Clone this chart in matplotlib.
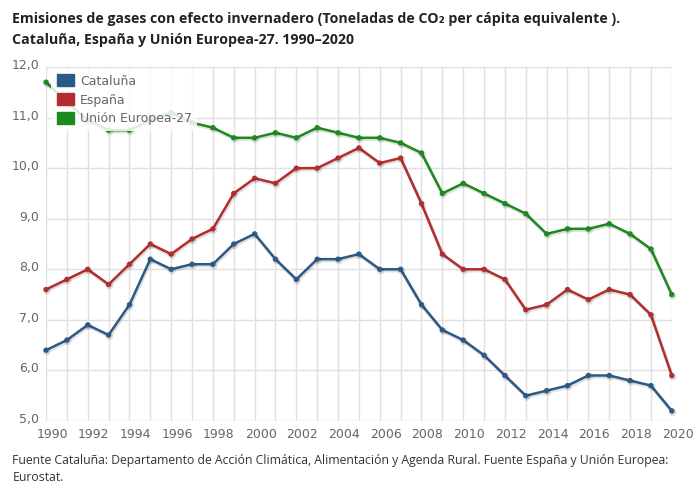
import matplotlib
matplotlib.use("Agg")
import matplotlib.pyplot as plt
import matplotlib.patheffects as pe
import matplotlib.transforms as mtransforms
from matplotlib.patches import Patch

years = list(range(1990, 2021))

cataluna = [6.4, 6.6, 6.9, 6.7, 7.3, 8.2, 8.0, 8.1, 8.1, 8.5, 8.7, 8.2, 7.8, 8.2, 8.2, 8.3,
            8.0, 8.0, 7.3, 6.8, 6.6, 6.3, 5.9, 5.5, 5.6, 5.7, 5.9, 5.9, 5.8, 5.7, 5.2]
espana = [7.6, 7.8, 8.0, 7.7, 8.1, 8.5, 8.3, 8.6, 8.8, 9.5, 9.8, 9.7, 10.0, 10.0, 10.2, 10.4,
          10.1, 10.2, 9.3, 8.3, 8.0, 8.0, 7.8, 7.2, 7.3, 7.6, 7.4, 7.6, 7.5, 7.1, 5.9]
ue27 = [11.7, 11.3, 10.95, 10.75, 10.75, 10.95, 11.1, 10.9, 10.8, 10.6, 10.6, 10.7, 10.6, 10.8,
        10.7, 10.6, 10.6, 10.5, 10.3, 9.5, 9.7, 9.5, 9.3, 9.1, 8.7, 8.8, 8.8, 8.9, 8.7, 8.4, 7.5]

series_names = ["Cataluña", "España", "Unión Europea-27"]
series_colors = ["#2d5986", "#b32d2e", "#1d8a1d"]

x_ticks = list(range(1990, 2021, 2))
y_ticks = [5, 6, 7, 8, 9, 10, 11, 12]

title = ("Emisiones de gases con efecto invernadero (Toneladas de CO\u2082 per cápita equivalente ).\n"
         "Cataluña, España y Unión Europea-27. 1990\u20132020")
source = ("Fuente Cataluña: Departamento de Acción Climática, Alimentación y Agenda Rural. "
          "Fuente España y Unión Europea:\nEurostat.")

fig = plt.figure(figsize=(6.94, 4.84), dpi=100)
ax = fig.add_axes([0.0663, 0.1302, 0.9017, 0.7314])

ax.set_xlim(1990, 2020)
ax.set_ylim(5, 12)
ax.set_xticks(range(1990, 2021))
ax.set_xticklabels([str(y) if y in x_ticks else "" for y in range(1990, 2021)])
ax.set_yticks(y_ticks)
ax.set_yticklabels([f"{v:.1f}".replace(".", ",") for v in y_ticks])
ax.grid(True, color="#e0e0e0", linewidth=1)
ax.set_axisbelow(True)
for s in ax.spines.values():
    s.set_visible(False)
ax.tick_params(length=0, labelsize=9, labelcolor="#666666")
ax.tick_params(axis="y", pad=5)
ax.tick_params(axis="x", pad=5)

# shift tick labels slightly: x to the right, y upward
x_off = mtransforms.ScaledTranslation(6 / 100, 0, fig.dpi_scale_trans)
for lbl in ax.get_xticklabels():
    lbl.set_transform(lbl.get_transform() + x_off)
y_off = mtransforms.ScaledTranslation(0, 3 / 100, fig.dpi_scale_trans)
for lbl in ax.get_yticklabels():
    lbl.set_transform(lbl.get_transform() + y_off)

shadow = [pe.SimpleLineShadow(offset=(0.6, -1.0), shadow_color="black", alpha=0.12, linewidth=2.6),
          pe.Normal()]
for vals, name, col in zip([cataluna, espana, ue27], series_names, series_colors):
    ax.plot(years, vals, color=col, linewidth=1.8, marker="o", markersize=2.8,
            clip_on=False, path_effects=shadow, zorder=3)

handles = [Patch(facecolor=c, edgecolor=c) for c in series_colors]
leg = ax.legend(handles, series_names, loc="upper left", bbox_to_anchor=(0.005, 1.0),
                frameon=True, fontsize=9, handlelength=1.4, handleheight=1.1,
                handletextpad=0.45, labelspacing=0.45, borderpad=0.45, borderaxespad=0.15)
leg.get_frame().set_facecolor("white")
leg.get_frame().set_alpha(0.85)
leg.get_frame().set_edgecolor("none")
for t in leg.get_texts():
    t.set_color("#666666")
leg.set_zorder(5)

fig.text(0.018, 0.975, title, ha="left", va="top", fontsize=10.2, fontweight="bold",
         family=["Open Sans", "DejaVu Sans"], color="#222222", linespacing=1.65)
fig.text(0.018, 0.061, source, ha="left", va="top", fontsize=8.8,
         family=["Open Sans", "DejaVu Sans"], color="#333333", linespacing=1.4)

fig.savefig("out.png", dpi=100)
